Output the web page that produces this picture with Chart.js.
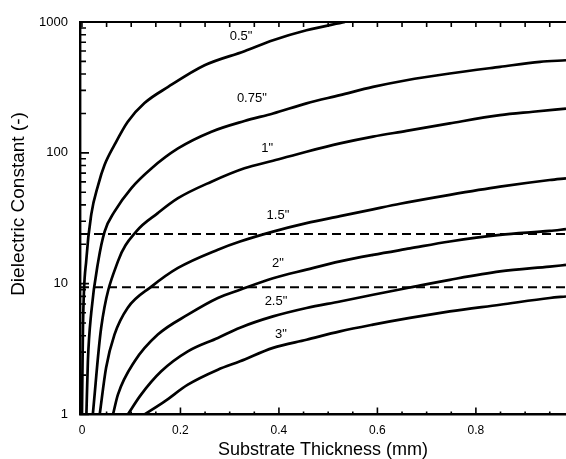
<!DOCTYPE html>
<html>
<head>
<meta charset="utf-8">
<script src="https://cdn.jsdelivr.net/npm/chart.js@4.4.0/dist/chart.umd.min.js"></script>
<style>
  body { margin: 0; background: #fff; }
  #wrap { width: 566px; height: 459px; }
</style>
</head>
<body>
<div id="wrap"><canvas id="chart" width="566" height="459"></canvas></div>
<script>
const FONT = "'Liberation Sans', Arial, sans-serif";

// substrate thickness (mm) / dielectric constant
const t05 = [0.000, 0.002, 0.009, 0.019, 0.033, 0.046, 0.066, 0.093, 0.127, 0.175, 0.249, 0.330, 0.388, 0.456, 0.534];
const e05 = [1, 4.6, 15.5, 34, 57, 81, 115, 173, 240, 319, 467, 598, 725, 864, 1000];

const t075 = [0.009, 0.012, 0.019, 0.033, 0.046, 0.066, 0.100, 0.141, 0.195, 0.263, 0.330, 0.388, 0.456, 0.524, 0.591, 0.659, 0.747, 0.849, 0.930, 0.983];
const e075 = [1, 2.55, 6.1, 14.8, 25, 35.5, 53.6, 76, 108, 145, 175, 200, 239, 276, 319, 359, 404, 454, 496, 510];

const t10 = [0.022, 0.039, 0.073, 0.110, 0.154, 0.195, 0.263, 0.330, 0.388, 0.456, 0.524, 0.591, 0.659, 0.747, 0.849, 0.916, 0.983];
const e10 = [1, 4.6, 14.8, 25, 34.6, 45, 60.2, 76.2, 87, 102, 118, 133, 147, 168, 194, 206, 218];

const t15 = [0.036, 0.049, 0.066, 0.093, 0.141, 0.195, 0.276, 0.321, 0.388, 0.456, 0.524, 0.591, 0.646, 0.747, 0.849, 0.950, 0.983];
const e15 = [1, 2.28, 4.08, 6.55, 9.5, 13.2, 18.2, 21, 25, 29, 32.8, 37, 40.8, 47.7, 55.1, 62, 63.9];

const t20 = [0.063, 0.073, 0.107, 0.154, 0.215, 0.276, 0.321, 0.388, 0.456, 0.524, 0.591, 0.666, 0.747, 0.849, 0.950, 0.983];
const e20 = [1, 1.42, 2.55, 4.08, 5.79, 7.77, 8.98, 11.0, 12.8, 14.8, 16.6, 18.6, 21, 23.6, 25.3, 26.1];

const t25 = [0.093, 0.120, 0.161, 0.215, 0.276, 0.321, 0.388, 0.456, 0.524, 0.591, 0.666, 0.747, 0.849, 0.950, 0.983];
const e25 = [1, 1.42, 2.14, 3.04, 3.85, 4.61, 5.62, 6.52, 7.31, 8.23, 9.35, 10.7, 12.4, 13.5, 13.9];

const t30 = [0.127, 0.168, 0.215, 0.276, 0.321, 0.388, 0.456, 0.524, 0.591, 0.666, 0.747, 0.849, 0.950, 0.983];
const e30 = [1, 1.26, 1.69, 2.2, 2.55, 3.23, 3.73, 4.32, 4.86, 5.47, 6.14, 6.9, 7.77, 7.98];

const curveNames = ['0.5"', '0.75"', '1"', '1.5"', '2"', '2.5"', '3"'];
const curveT = [t05, t075, t10, t15, t20, t25, t30];
const curveE = [e05, e075, e10, e15, e20, e25, e30];

// where each curve name sits (thickness, dielectric constant)
const labelT = [0.323, 0.345, 0.376, 0.398, 0.398, 0.394, 0.404];
const labelE = [778, 262, 109, 33.5, 14.4, 7.28, 4.08];

// dashed reference levels
const refEps = [24, 9.4];

const xMin = -0.004, xMax = 0.983;
const xTicks = [0, 0.2, 0.4, 0.6, 0.8];
const xTickLabels = ['0', '0.2', '0.4', '0.6', '0.8'];
const yTicks = [1, 10, 100, 1000];

const datasets = curveNames.map((name, i) => ({
    label: name,
    data: curveT[i].map((t, j) => ({ x: t, y: curveE[i][j] })),
    borderColor: '#000',
    borderWidth: 2.7,
    pointRadius: 0,
    cubicInterpolationMode: 'monotone',
    fill: false,
}));

refEps.forEach(v => {
    datasets.push({
        label: 'ref ' + v,
        data: [{ x: xMin, y: v }, { x: xMax, y: v }],
        borderColor: '#000',
        borderWidth: 2,
        borderDash: [9, 5],
        pointRadius: 0,
        fill: false,
    });
});

// inward tick marks, top frame line, curve names and y title
const decorations = {
    id: 'decorations',
    afterDatasetsDraw(chart) {
        const { ctx, chartArea: a, scales: { x, y } } = chart;
        ctx.save();
        ctx.strokeStyle = '#000';
        ctx.lineWidth = 2.2;
        ctx.beginPath();
        ctx.moveTo(a.left, a.top);
        ctx.lineTo(a.right, a.top);
        ctx.stroke();

        ctx.lineWidth = 1.6;
        ctx.beginPath();
        for (let i = 0; i * 0.05 <= xMax; i++) {
            const px = x.getPixelForValue(i * 0.05);
            const major = i % 4 === 0;
            ctx.moveTo(px, a.bottom);
            ctx.lineTo(px, a.bottom - (major ? 7 : 3));
            ctx.moveTo(px, a.top);
            ctx.lineTo(px, a.top + 5);
        }
        [1, 10, 100].forEach(d => {
            for (let m = 1; m <= 10; m++) {
                const py = y.getPixelForValue(d * m);
                ctx.moveTo(a.left, py);
                ctx.lineTo(a.left + (m === 1 || m === 10 ? 9 : 6), py);
            }
        });
        ctx.stroke();

        ctx.fillStyle = '#000';
        ctx.font = '13px ' + FONT;
        ctx.textAlign = 'center';
        ctx.textBaseline = 'middle';
        curveNames.forEach((name, i) => {
            ctx.fillText(name, x.getPixelForValue(labelT[i]), y.getPixelForValue(labelE[i]));
        });

        ctx.font = '19px ' + FONT;
        ctx.translate(19, 204);
        ctx.rotate(-Math.PI / 2);
        ctx.fillText('Dielectric Constant (-)', 0, 0);
        ctx.restore();
    }
};

new Chart(document.getElementById('chart'), {
    type: 'line',
    data: { datasets },
    options: {
        responsive: false,
        animation: false,
        layout: { padding: { top: 22, right: 0, left: 0, bottom: 0 } },
        plugins: { legend: { display: false }, tooltip: { enabled: false } },
        scales: {
            x: {
                type: 'linear',
                min: xMin,
                max: xMax,
                afterBuildTicks: s => { s.ticks = xTicks.map(v => ({ value: v })); },
                afterFit: s => { s.height = 44.5; },
                grid: { display: false, drawTicks: false },
                border: { display: true, color: '#000', width: 2.4 },
                ticks: {
                    padding: 9,
                    color: '#000',
                    font: { family: FONT, size: 12 },
                    maxRotation: 0,
                    callback: (v, i) => xTickLabels[i],
                },
                title: {
                    display: true,
                    text: 'Substrate Thickness (mm)',
                    color: '#000',
                    font: { family: FONT, size: 18, lineHeight: 1 },
                    padding: { top: 0, bottom: 0 },
                },
            },
            y: {
                type: 'logarithmic',
                min: 1,
                max: 1000,
                afterBuildTicks: s => { s.ticks = yTicks.map(v => ({ value: v })); },
                afterFit: s => { s.width = 80; },
                grid: { display: false, drawTicks: false },
                border: { display: true, color: '#000', width: 2.4 },
                ticks: {
                    padding: 12,
                    color: '#000',
                    font: { family: FONT, size: 13 },
                    callback: v => String(v),
                },
            },
        },
    },
    plugins: [decorations],
});
</script>
</body>
</html>
